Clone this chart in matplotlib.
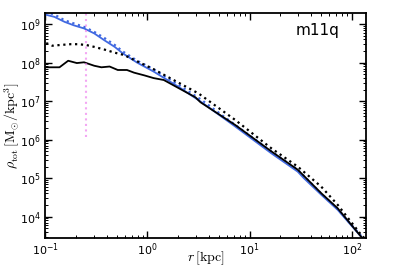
import numpy as np
import matplotlib
matplotlib.use('Agg')
import matplotlib.pyplot as plt

plt.rcParams['mathtext.fontset'] = 'cm'

# log10 r [kpc], log10 rho [Msun/kpc^3]
lr_dm = [-1.0, -0.91, -0.81, -0.72, -0.62, -0.52, -0.42, -0.32, -0.24, -0.1, 0.06, 0.3, 0.52, 0.86, 1.21, 1.47, 1.53, 1.70, 1.86, 2.09, 2.12]
lrho_dm = [9.25, 9.19, 9.06, 8.97, 8.89, 8.76, 8.58, 8.41, 8.24, 8.0, 7.77, 7.38, 6.99, 6.34, 5.65, 5.17, 5.0, 4.57, 4.18, 3.48, 3.40]

lr_dmo = [-1.0, -0.91, -0.81, -0.72, -0.62, -0.52, -0.42, -0.32, -0.24, -0.1, 0.06, 0.3, 0.52, 0.86, 1.21, 1.47, 1.70, 1.86, 2.09, 2.12]
lrho_dmo = [9.32, 9.25, 9.10, 9.02, 8.93, 8.80, 8.64, 8.46, 8.29, 8.05, 7.83, 7.43, 7.05, 6.38, 5.70, 5.22, 4.60, 4.20, 3.50, 3.42]

lr_tot = [-0.99, -0.86, -0.775, -0.69, -0.62, -0.52, -0.45, -0.37, -0.29, -0.2, -0.13, -0.03, 0.06, 0.16, 0.47, 0.52, 0.86, 1.21, 1.47, 1.70, 1.86, 2.09, 2.12]
lrho_tot = [7.88, 7.88, 8.05, 7.99, 8.01, 7.92, 7.88, 7.90, 7.81, 7.81, 7.74, 7.67, 7.60, 7.55, 7.10, 6.97, 6.38, 5.70, 5.22, 4.61, 4.22, 3.48, 3.40]

lr_bar = [-0.99, -0.93, -0.85, -0.75, -0.68, -0.6, -0.52, -0.42, -0.32, -0.23, 0.06, 0.5, 0.86, 1.21, 1.47, 1.70, 1.86, 2.09, 2.12]
lrho_bar = [8.51, 8.44, 8.46, 8.48, 8.48, 8.46, 8.41, 8.34, 8.26, 8.20, 7.83, 7.20, 6.51, 5.78, 5.30, 4.78, 4.31, 3.53, 3.45]

r_soft = 0.25

fig = plt.figure(figsize=(4.07, 2.71), dpi=100)
ax = fig.add_axes([0.111, 0.123, 0.788, 0.829])

ax.plot(10**np.array(lr_dm), 10**np.array(lrho_dm), color='royalblue', lw=1.3)
ax.plot(10**np.array(lr_dmo), 10**np.array(lrho_dmo), color='royalblue', lw=1.6, ls=':')
ax.plot(10**np.array(lr_tot), 10**np.array(lrho_tot), color='k', lw=1.3)
ax.plot(10**np.array(lr_bar), 10**np.array(lrho_bar), color='k', lw=1.6, ls=':')
ax.plot([r_soft, r_soft], [1.2e6, 3e9], color='violet', lw=1.5, ls=':', alpha=0.7)

ax.set_xscale('log')
ax.set_yscale('log')
ax.set_xlim(0.1, 137)
ax.set_ylim(2.85e3, 1.95e9)
ax.tick_params(which='both', direction='in', top=True, right=True, labelsize=8, pad=3)
ax.tick_params(which='major', length=5, width=1)
ax.tick_params(which='minor', length=2.5, width=0.7)
for s in ax.spines.values():
    s.set_linewidth(1.3)

xl = ax.set_xlabel(r'$r\,[\rm kpc]$', fontsize=10)
xl.set_va('center')
ax.xaxis.set_label_coords(0.5, -0.09)
yl = ax.set_ylabel(r'$\rho_{\rm tot}\,[{\rm M_{\odot}/kpc^3}]$', fontsize=10)
yl.set_va('center')
ax.yaxis.set_label_coords(-0.103, 0.5)
ax.text(0.848, 0.924, 'm11q', transform=ax.transAxes, ha='center', va='center', fontsize=11)

plt.savefig('out.png', dpi=100)
